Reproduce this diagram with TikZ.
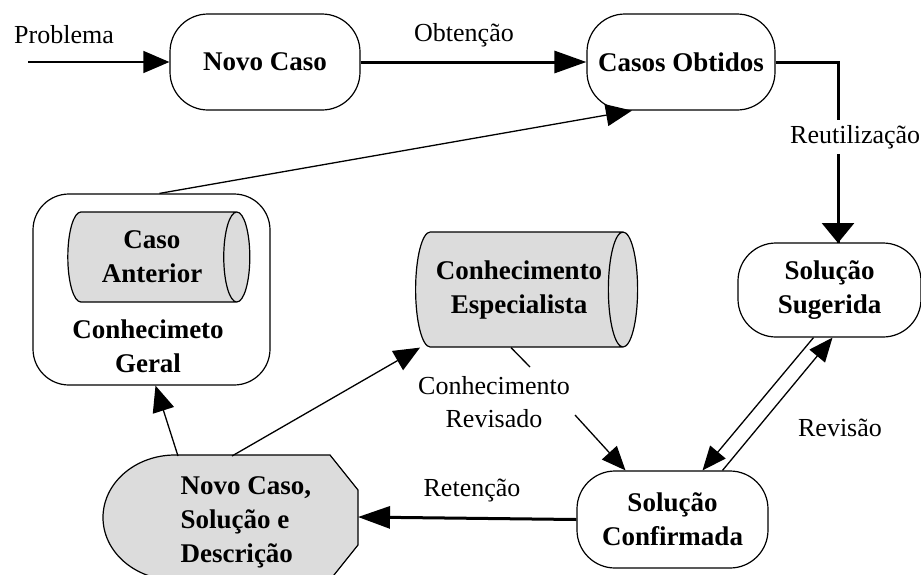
\documentclass[tikz,border=0pt]{standalone}
\usepackage{fontspec}
\setmainfont{Liberation Serif}
\usetikzlibrary{shapes.geometric,arrows.meta}
\definecolor{boxgray}{HTML}{DCDCDC}
\tikzset{
  lbl/.style={font=\fontsize{26}{33}\selectfont, align=center, inner sep=2pt},
  bold/.style={font=\fontsize{27}{34}\selectfont\bfseries, align=center},
  stadium/.style={draw, line width=1.2pt, rectangle, rounded corners=38pt, inner sep=0pt, bold},
  cyl/.style={draw, line width=1.2pt, cylinder, shape border rotate=0, shape aspect=0.5,
    cylinder uses custom fill, cylinder body fill=boxgray, cylinder end fill=boxgray, inner sep=0pt, bold},
  conn/.style={line width=1.3pt, -{Triangle[length=26pt,width=22pt]}},
  thickconn/.style={line width=3pt, -{Triangle[length=32pt,width=22pt]}},
  thinconn/.style={line width=1.3pt, -{Triangle[length=24pt,width=20pt]}},
}
\begin{document}
\begin{tikzpicture}[x=1pt,y=-1pt]
\useasboundingbox (0,0) rectangle (921,574);
% nodes
\node[stadium, minimum width=190pt, minimum height=96pt] (nc) at (265,62) {Novo Caso};
\node[stadium, minimum width=188pt, minimum height=96pt] (obt) at (681,62) {Casos Obtidos};
\node[stadium, minimum width=183pt, minimum height=94pt] (sug) at (829.5,290) {Solução\\Sugerida};
\node[stadium, minimum width=191pt, minimum height=97pt] (conf) at (672.5,519.5) {Solução\\Confirmada};
\node[draw, line width=1.2pt, rectangle, rounded corners=36pt, minimum width=237pt, minimum height=191pt] (geral) at (151.5,289.5) {};
\node[cyl, minimum width=90pt, minimum height=182pt] (ant) at (152,257) {Caso\\Anterior};
\node[bold] (geraltxt) at (148,346) {Conhecimeto\\Geral};
\node[cyl, minimum width=115pt, minimum height=222pt] (esp) at (519,289.5) {Conhecimento\\Especialista};
% new case shape
\draw[line width=1.2pt, fill=boxgray] (175,455) -- (330,455) -- (358,490) -- (358,545) -- (330,580) -- (175,580)
  arc[start angle=90, end angle=270, x radius=72, y radius=62.5] -- cycle;
\node[bold, align=left, anchor=west] (ncsd) at (177,522) {Novo Caso,\\Solução e\\Descrição};
\coordinate (ncsdA) at (178,456);
\coordinate (ncsdB) at (232,456);
\coordinate (ncsdR) at (358,517);
\coordinate (start) at (28,62);
\coordinate (ru1) at (838,62);
\coordinate (ru2) at (838,243);
\coordinate (cr1) at (530,367);
\coordinate (cr2) at (575,415);
% labels
\node[lbl] (prob) at (64,35) {Problema};
\node[lbl] (obtl) at (464,35) {Obtenção};
\node[lbl] (crl) at (494,402) {Conhecimento\\Revisado};
\node[lbl] (retl) at (472,490) {Retenção};
\node[lbl] (revl) at (840,428) {Revisão};
% connectors
\draw[conn] (start) -- (nc.west);
\draw[thickconn] (nc.east) -- (obt.west);
\draw[line width=3pt] (obt.east) -- (ru1) -- (ru2);
\node[lbl, fill=white, anchor=west, inner sep=5pt] (rul) at (785,137) {Reutilização};
\draw[line width=3pt, -{Triangle[length=20pt,width=32pt]}] (rul.south -| ru2) -- (ru2);
\draw[conn] ([xshift=8pt]geral.north) -- ([xshift=-49pt]obt.south);
\draw[thinconn] ([xshift=-16pt]sug.south) -- ([xshift=30pt]conf.north);
\draw[thinconn] ([xshift=50pt]conf.north) -- ([xshift=3pt]sug.south);
\draw[line width=1.3pt] ([xshift=-8pt]esp.south) -- (cr1);
\draw[thinconn] (cr2) -- ([xshift=-47pt]conf.north);
\draw[thickconn] (conf.west) -- (ncsdR);
\draw[conn] (ncsdA) -- ([xshift=4pt]geral.south);
\draw[conn] (ncsdB) -- ([xshift=-99pt]esp.south);
\end{tikzpicture}
\end{document}
